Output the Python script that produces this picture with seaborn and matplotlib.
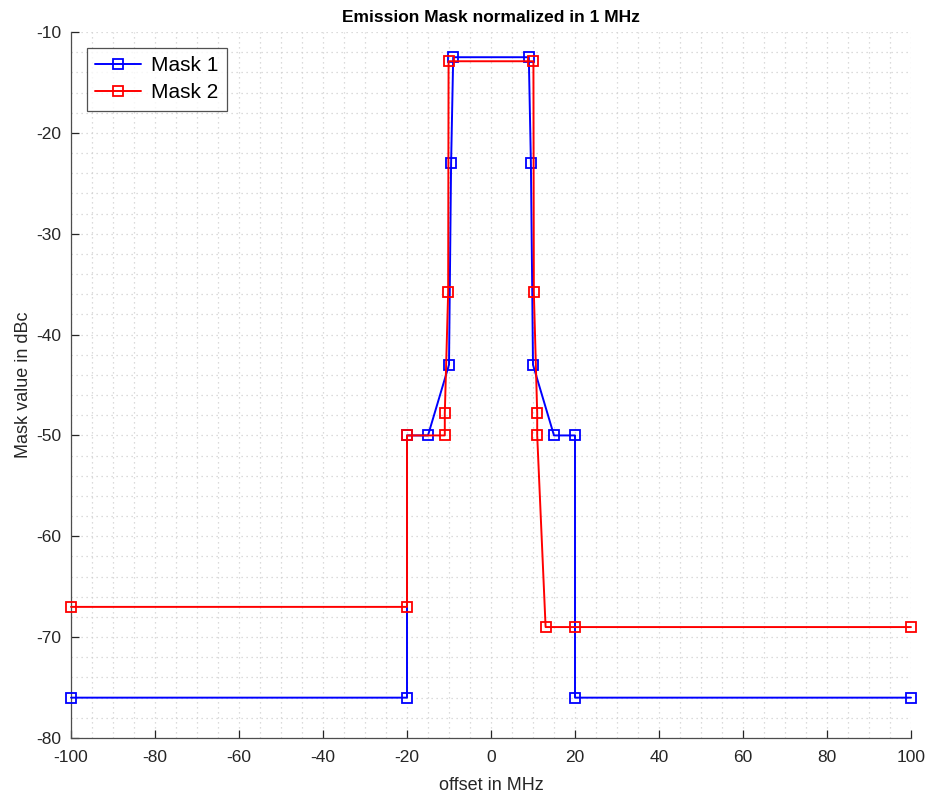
import matplotlib
matplotlib.use("Agg")
import matplotlib.pyplot as plt
from matplotlib.ticker import MultipleLocator
import seaborn as sns
import pandas as pd

# Data
mask1_x = [-100, -20, -20, -15, -10, -9.5, -9, 9, 9.5, 10, 15, 20, 20, 100]
mask1_y = [-76, -76, -50, -50, -43, -23, -12.5, -12.5, -23, -43, -50, -50, -76, -76]
mask2_x = [-100, -20, -20, -11, -11, -10.2, -10.1, 10.1, 10.2, 11, 11, 13, 20, 100]
mask2_y = [-67, -67, -50, -50, -47.8, -35.8, -12.9, -12.9, -35.8, -47.8, -50, -69, -69, -69]

x_ticks = list(range(-100, 101, 20))
y_ticks = list(range(-80, -9, 10))

sns.set_theme(style="white")
plt.rcParams['font.family'] = ['Liberation Sans', 'DejaVu Sans']
plt.rcParams['axes.unicode_minus'] = False

fig = plt.figure(figsize=(9.3, 7.96), dpi=100)
ax = fig.add_axes([71/930, 1 - 738/796, 840/930, 706/796])

df1 = pd.DataFrame({"x": mask1_x, "y": mask1_y})
df2 = pd.DataFrame({"x": mask2_x, "y": mask2_y})

for df, col, lab in [(df1, "#0000ff", "Mask 1"), (df2, "#ff0000", "Mask 2")]:
    sns.lineplot(data=df, x="x", y="y", sort=False, ax=ax, color=col, lw=1.4,
                 marker="s", markersize=7.8, markerfacecolor="none",
                 markeredgecolor=col, markeredgewidth=1.3, label=lab,
                 estimator=None, clip_on=False, zorder=3)

ax.set_xlim(-100, 100)
ax.set_ylim(-80, -10)
ax.set_xticks(x_ticks)
ax.set_yticks(y_ticks)
ax.xaxis.set_minor_locator(MultipleLocator(5))
ax.yaxis.set_minor_locator(MultipleLocator(2))
ax.grid(True, which="both", color="#d0d0d0", linestyle=(0, (1, 3)), linewidth=0.9)
ax.set_axisbelow(True)

for s in ["top", "right"]:
    ax.spines[s].set_visible(False)
for s in ["left", "bottom"]:
    ax.spines[s].set_color("#4d4d4d")
    ax.spines[s].set_linewidth(0.9)

ax.tick_params(axis="both", which="major", direction="in", length=6, width=0.9,
               color="#262626", labelsize=12.5, labelcolor="#262626",
               bottom=True, left=True)
ax.tick_params(axis="x", which="major", pad=9)
ax.tick_params(axis="y", which="major", pad=7)
ax.tick_params(axis="both", which="minor", length=0)

ax.set_xlabel("offset in MHz", fontsize=13, color="#262626", labelpad=8)
ax.set_ylabel("Mask value in dBc", fontsize=13, color="#262626", labelpad=3)
ax.set_title("Emission Mask normalized in 1 MHz", fontsize=12.5, fontweight="bold",
             color="black", pad=7)

leg = ax.legend(loc="upper left", fontsize=15, frameon=True, fancybox=False,
                edgecolor="#262626", borderaxespad=0.75, handlelength=2.2,
                borderpad=0.4, labelspacing=0.4, handletextpad=0.5)
leg.get_frame().set_linewidth(0.9)
for t in leg.get_texts():
    t.set_color("black")

fig.savefig("out.png", dpi=100, facecolor="white")
